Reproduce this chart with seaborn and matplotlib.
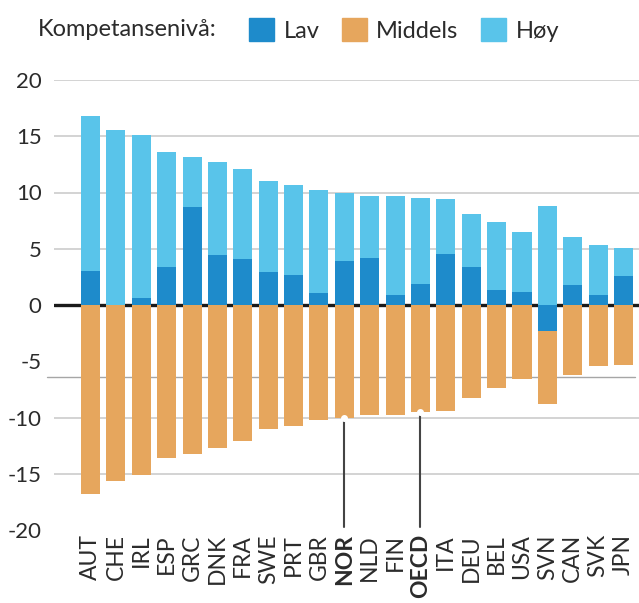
import pandas as pd
import seaborn as sns
import matplotlib.pyplot as plt
from matplotlib.patches import Patch

# values
countries = ["AUT", "CHE", "IRL", "ESP", "GRC", "DNK", "FRA", "SWE", "PRT", "GBR", "NOR",
             "NLD", "FIN", "OECD", "ITA", "DEU", "BEL", "USA", "SVN", "CAN", "SVK", "JPN"]
lav = [3.0, 0.0, 0.65, 3.4, 8.7, 4.45, 4.1, 2.95, 2.7, 1.1, 3.95,
       4.2, 0.85, 1.9, 4.55, 3.4, 1.35, 1.2, -2.35, 1.8, 0.9, 2.6]
hoy = [13.8, 15.55, 14.45, 10.2, 4.45, 8.25, 8.0, 8.05, 8.0, 9.1, 6.0,
       5.5, 8.85, 7.6, 4.85, 4.7, 6.05, 5.3, 8.8, 4.25, 4.45, 2.5]
middels = [-16.8, -15.65, -15.1, -13.6, -13.25, -12.7, -12.1, -11.05, -10.75, -10.25, -10.05,
           -9.75, -9.75, -9.55, -9.4, -8.25, -7.35, -6.6, -6.45, -6.25, -5.45, -5.3]
highlight = ["NOR", "OECD"]
yticks = [20, 15, 10, 5, 0, -5, -10, -15, -20]

LAV_COL = "#1E8BCB"
MID_COL = "#E6A65D"
HOY_COL = "#59C4EA"
TXT_COL = "#2b2b2b"

sns.set_theme(style="white")
plt.rcParams["font.family"] = ["Lato", "DejaVu Sans"]

df = pd.DataFrame({"land": countries, "lav": lav, "hoy": hoy, "middels": middels})
# stacked: positive stack on top of zero, negative stack below
df["topp"] = df["lav"].clip(lower=0) + df["hoy"]
df["bunn"] = df["lav"].clip(upper=0) + df["middels"]

fig = plt.figure(figsize=(6.39, 6.03), dpi=100)
ax = fig.add_axes([54 / 639, 1 - 530 / 603, 1 - 54 / 639, 450 / 603])

bar_kw = dict(width=0.75, saturation=1, errorbar=None, linewidth=0, zorder=2, ax=ax)
sns.barplot(data=df, x="land", y="topp", color=HOY_COL, **bar_kw)
sns.barplot(data=df, x="land", y="bunn", color=MID_COL, **bar_kw)
sns.barplot(data=df, x="land", y="lav", color=LAV_COL, **bar_kw)

# gridlines
for v in [20, 15, 10, 5, -10, -15]:
    ax.axhline(v, color="#cccccc", lw=1.2, zorder=0)
ax.axhline(-6.4, xmin=-0.012, xmax=0.993, color="#a6a6a6", lw=1.0, zorder=0, clip_on=False)
ax.axhline(0, color="#1a1a1a", lw=2.4, zorder=1)

ax.set_xlim(-1.44, len(countries) - 0.39)
ax.set_ylim(-20, 20)
ax.set_yticks(yticks)
ax.set_yticklabels([str(v) for v in yticks])
ax.set_xticks(range(len(countries)))
ax.set_xticklabels(countries, rotation=90)
for lbl in ax.get_xticklabels():
    if lbl.get_text() in highlight:
        lbl.set_fontweight("bold")
ax.tick_params(axis="y", length=0, pad=9, labelsize=16, labelcolor=TXT_COL)
ax.tick_params(axis="x", length=0, pad=3, labelsize=16.5, labelcolor=TXT_COL)
ax.set_xlabel("")
ax.set_ylabel("")
for s in ax.spines.values():
    s.set_visible(False)

# pointer lines for NOR and OECD
for name in highlight:
    i = countries.index(name)
    b = df.loc[i, "bunn"]
    ax.plot([i, i], [b, -19.7], color="#444444", lw=1.5, zorder=4, clip_on=False)
    ax.plot(i, b, "o", ms=4, mfc="white", mec="white", zorder=5, clip_on=False)

# legend
fig.text(38 / 639, 1 - 30 / 603, "Kompetansenivå:", fontsize=17, va="center", ha="left", color=TXT_COL)
handles = [Patch(color=LAV_COL, label="Lav"),
           Patch(color=MID_COL, label="Middels"),
           Patch(color=HOY_COL, label="Høy")]
fig.legend(handles=handles, loc="center left", bbox_to_anchor=(249 / 639, 1 - 30 / 603),
           ncol=3, frameon=False, fontsize=17, handlelength=1.06, handleheight=1.06,
           handletextpad=0.4, columnspacing=0.95, borderaxespad=0, borderpad=0,
           labelcolor=TXT_COL)

fig.savefig("out.png", dpi=100)
